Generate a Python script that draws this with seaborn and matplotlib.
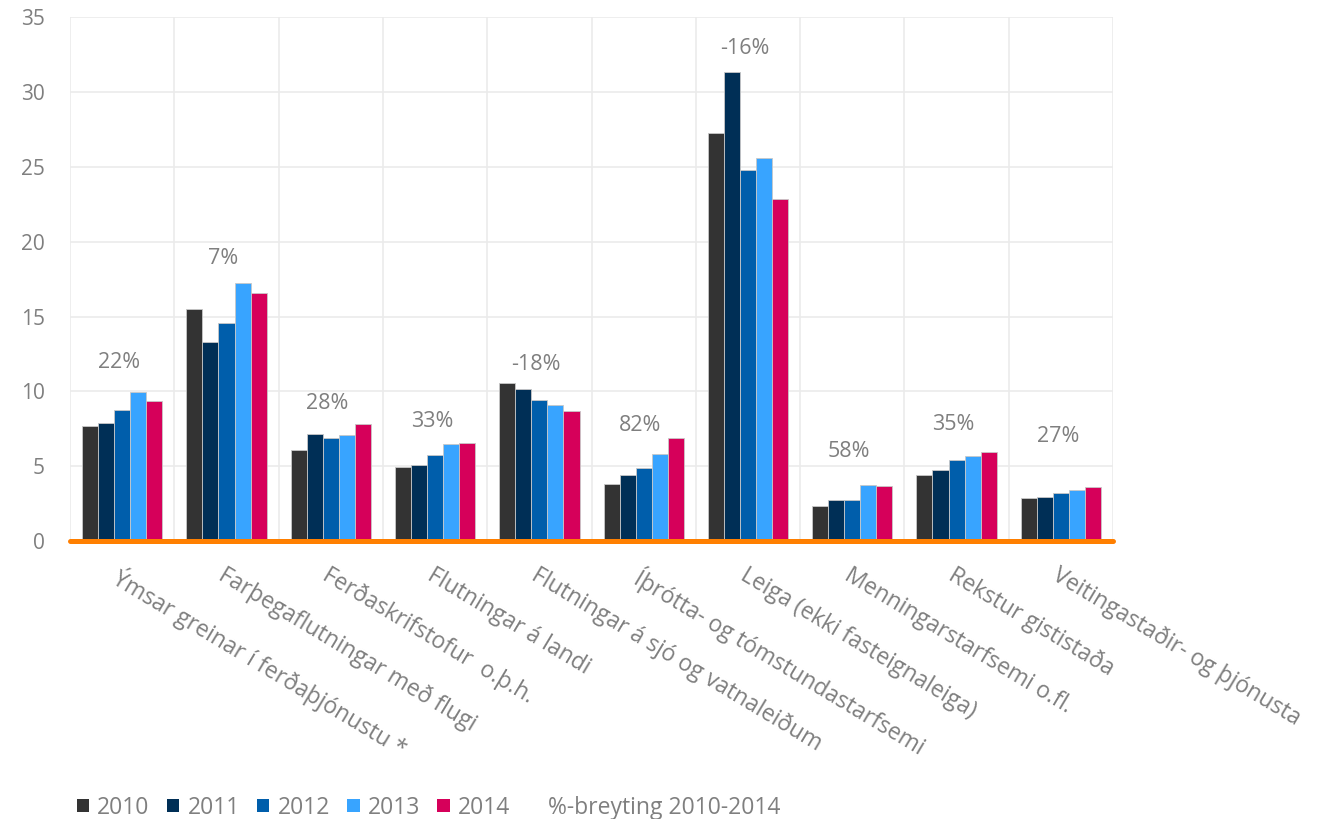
import pandas as pd
import matplotlib.pyplot as plt
import seaborn as sns
from matplotlib.patches import Patch

# Data
categories = [
    'Ýmsar greinar í ferðaþjónustu *',
    'Farþegaflutningar með flugi',
    'Ferðaskrifstofur  o.þ.h.',
    'Flutningar á landi',
    'Flutningar á sjó og vatnaleiðum',
    'Íþrótta- og tómstundastarfsemi',
    'Leiga (ekki fasteignaleiga)',
    'Menningarstarfsemi o.fl.',
    'Rekstur gististaða',
    'Veitingastaðir- og þjónusta',
]
years = ['2010', '2011', '2012', '2013', '2014']
v2010 = [7.68, 15.49, 6.11, 4.92, 10.54, 3.80, 27.24, 2.37, 4.40, 2.88]
v2011 = [7.88, 13.31, 7.12, 5.10, 10.13, 4.40, 31.33, 2.73, 4.73, 2.97]
v2012 = [8.73, 14.60, 6.88, 5.73, 9.42, 4.87, 24.78, 2.77, 5.42, 3.20]
v2013 = [9.96, 17.21, 7.06, 6.49, 9.08, 5.82, 25.62, 3.75, 5.69, 3.40]
v2014 = [9.33, 16.56, 7.80, 6.56, 8.67, 6.89, 22.84, 3.69, 5.96, 3.64]
pct_labels = ['22%', '7%', '28%', '33%', '-18%', '82%', '-16%', '58%', '35%', '27%']
pct_heights = [11.9, 18.9, 9.2, 8.0, 11.8, 7.75, 32.9, 6.0, 7.8, 7.0]

colors = ['#333333', '#002f56', '#005eab', '#38a4ff', '#d6005a']
grey = '#7f7f7f'

rows = []
for yr, vals in zip(years, [v2010, v2011, v2012, v2013, v2014]):
    for cat, v in zip(categories, vals):
        rows.append({'category': cat, 'year': yr, 'value': v})
df = pd.DataFrame(rows)

sns.set_theme(style='white')
plt.rcParams['font.family'] = ['Open Sans', 'DejaVu Sans']

fig = plt.figure(figsize=(13.32, 8.19), dpi=100)
ax = fig.add_axes([0.0526, 0.3394, 0.783, 0.6396])

sns.barplot(data=df, x='category', y='value', hue='year', palette=colors,
            saturation=1, width=0.77, edgecolor='#c8c8c8', linewidth=0.6,
            ax=ax, legend=False, zorder=3)

ax.set_ylim(0, 35)
ax.set_xlim(-0.5, len(categories) - 0.5)
ax.set_yticks(range(0, 36, 5))
ax.set_xlabel('')
ax.set_ylabel('')

# grid: horizontal at y ticks, vertical between categories
ax.set_xticks([i + 0.5 for i in range(-1, len(categories))], minor=True)
ax.grid(axis='y', which='major', color='#ebebeb', linewidth=1.2, zorder=0)
ax.grid(axis='x', which='minor', color='#ebebeb', linewidth=1.2, zorder=0)
ax.grid(axis='x', which='major', visible=False)
ax.set_axisbelow(True)
for s in ax.spines.values():
    s.set_visible(False)
ax.axhline(0, color='#ff7f00', linewidth=3.6, zorder=4, clip_on=False)

ax.tick_params(axis='y', which='both', length=0, pad=18, labelsize=15, labelcolor=grey)
ax.tick_params(axis='x', which='both', length=0, pad=16)
ax.set_xticks(range(len(categories)))
ax.set_xticklabels(categories, rotation=-31, ha='left', va='top',
                   rotation_mode='anchor', fontsize=16.5, color=grey)

for i, (lab, h) in enumerate(zip(pct_labels, pct_heights)):
    ax.text(i - 0.03, h, lab, ha='center', va='center', fontsize=15.5, color=grey)

handles = [Patch(facecolor=c, edgecolor='none') for c in colors]
handles.append(Patch(facecolor='none', edgecolor='none'))
labels = years + ['%-breyting 2010-2014']
fig.legend(handles, labels, loc='lower left', bbox_to_anchor=(0.042, -0.026),
           ncol=6, frameon=False, fontsize=16.5, labelcolor=grey,
           handlelength=0.55, handleheight=0.55, handletextpad=0.35,
           columnspacing=0.75)

fig.savefig('out.png', dpi=100)
